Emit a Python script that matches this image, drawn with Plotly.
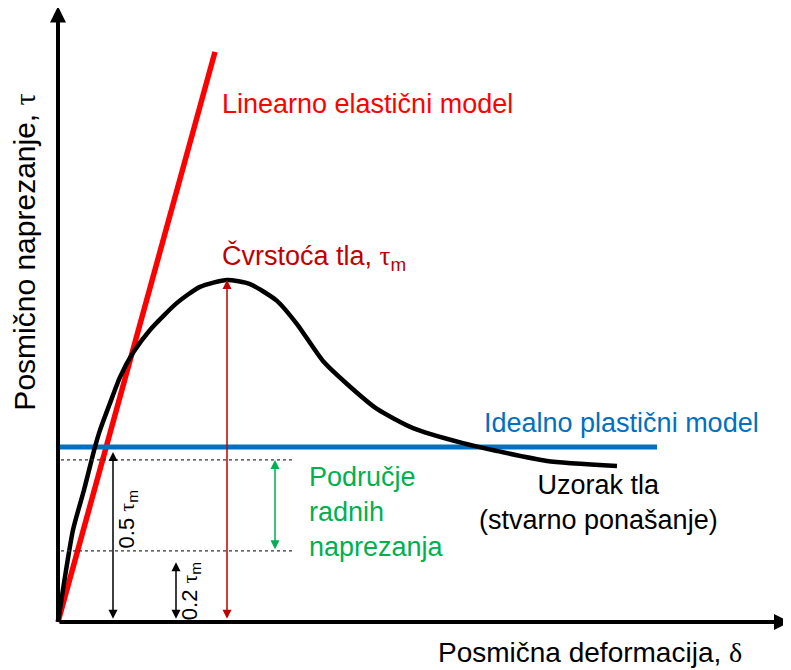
import plotly.graph_objects as go

# ---- data (deformation in arbitrary units, stress normalised by tau_m) ----
soil_x = [0, 0.15, 0.26, 0.37, 0.42, 0.52, 0.62, 0.75, 0.92, 1.19, 1.42, 1.69,
          1.92, 2.19, 2.39, 2.65, 2.89, 3.19, 3.55, 4.05, 4.39, 4.89, 5.59]
soil_y = [0, 0.269, 0.386, 0.512, 0.561, 0.640, 0.716, 0.787, 0.854, 0.933, 0.980, 1.0,
          0.988, 0.939, 0.871, 0.763, 0.696, 0.623, 0.567, 0.523, 0.500, 0.471, 0.456]
linear_x = [0, 1.57]
linear_y = [0, 1.667]
plastic_x = [0, 5.99]
plastic_y = [0.512, 0.512]
peak_x = 1.69
tau_m = 1.0
work_upper = 0.474
work_lower = 0.208
work_x = [0.03, 2.35]
half_arrow = [0.0, 0.497]
fifth_arrow = [0.0, 0.175]
axis_x_max = 7.32
axis_y_max = 1.80

FONT = "Liberation Sans, Arial, sans-serif"
SERIF = "Liberation Serif"
FS = 27

fig = go.Figure()
fig.add_trace(go.Scatter(x=linear_x, y=linear_y, mode="lines",
                         line=dict(color="#FF0000", width=5.5), hoverinfo="skip"))
fig.add_trace(go.Scatter(x=plastic_x, y=plastic_y, mode="lines",
                         line=dict(color="#0070C0", width=5), hoverinfo="skip"))
fig.add_trace(go.Scatter(x=soil_x, y=soil_y, mode="lines",
                         line=dict(color="black", width=4.5, shape="spline", smoothing=0.6),
                         hoverinfo="skip"))
for yv in (work_upper, work_lower):
    fig.add_trace(go.Scatter(x=work_x, y=[yv, yv], mode="lines",
                             line=dict(color="#333333", width=1.3, dash="dot"),
                             hoverinfo="skip"))

ann = []

def arrow(x0, y0, x1, y1, color, width, head, size, both=False):
    ann.append(dict(x=x1, y=y1, ax=x0, ay=y0, xref="x", yref="y", axref="x", ayref="y",
                    text="", showarrow=True, arrowhead=head, startarrowhead=head,
                    arrowsize=size, startarrowsize=size, arrowwidth=width,
                    arrowcolor=color, standoff=0, startstandoff=0,
                    arrowside="end+start" if both else "end"))

# axes
arrow(0, 0, axis_x_max, 0, "black", 4, 2, 0.8)
arrow(0, 0, 0, axis_y_max, "black", 4, 2, 0.8)
# dimension arrows
arrow(0.55, half_arrow[0] + 0.005, 0.55, half_arrow[1], "black", 1.5, 2, 1.2, True)
arrow(1.18, fifth_arrow[0] + 0.005, 1.18, fifth_arrow[1], "black", 1.5, 2, 1.2, True)
arrow(peak_x, 0.005, peak_x, tau_m, "#C00000", 1.5, 2, 1.2, True)
arrow(2.17, work_lower, 2.17, work_upper, "#00B050", 1.5, 2, 1.2, True)

def label(x, y, text, color="black", size=FS, xanchor="left", angle=0, align="left"):
    ann.append(dict(x=x, y=y, xref="x", yref="y", text=text, showarrow=False,
                    xanchor=xanchor, yanchor="middle", textangle=angle, align=align,
                    font=dict(family=FONT, size=size, color=color)))

tau = f'<span style="font-family:{SERIF}">τ</span>'
delta = f'<span style="font-family:{SERIF}">δ</span>'

label(1.62, 1.515, "Linearno elastični model", "#FF0000")
label(1.62, 1.067, f"Čvrstoća tla, {tau}<sub>m</sub>", "#C00000")
label(4.24, 0.582, "Idealno plastični model", "#0070C0")
label(5.40, 0.349, "Uzorak tla<br>(stvarno ponašanje)", "black", xanchor="center", align="center")
label(2.49, 0.322, "Područje<br>radnih<br>naprezanja", "#00B050")
label(0.70, 0.30, f"0.5 {tau}<sub>m</sub>", "black", size=22, xanchor="center", angle=-90)
label(1.33, 0.09, f"0.2 {tau}<sub>m</sub>", "black", size=22, xanchor="center", angle=-90)
label(5.32, -0.088, f"Posmična deformacija, {delta}", "black", size=28, xanchor="center")
label(-0.33, 1.08, f"Posmično naprezanje, {tau}", "black", size=30, xanchor="center", angle=-90)

# page body has an 8px margin: size the figure so it fits the 791x670 window
fig.update_layout(
    width=783, height=662, margin=dict(l=0, r=0, t=0, b=0),
    paper_bgcolor="white", plot_bgcolor="white", showlegend=False,
    xaxis=dict(range=[-0.50, 7.33], visible=False, fixedrange=True),
    yaxis=dict(range=[-0.1404, 1.7953], visible=False, fixedrange=True),
    annotations=ann,
)
fig.write_html("out.html")
